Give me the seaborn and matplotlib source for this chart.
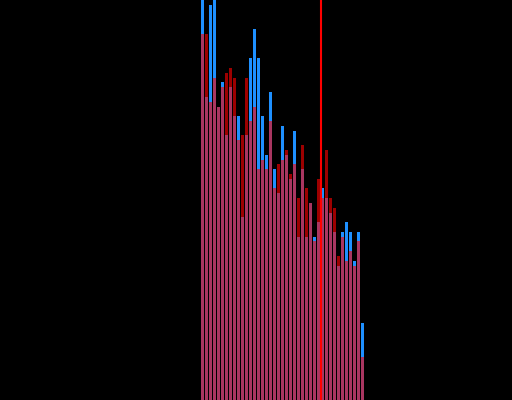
import numpy as np
import pandas as pd
import seaborn as sns
import matplotlib
matplotlib.use('Agg')
import matplotlib.pyplot as plt

# bin index and bar heights (two overlaid histograms)
bins = list(range(41))
blue_counts = [415, 303, 395, 410, 293, 318, 265, 313, 284, 284,
               183, 265, 342, 371, 342, 284, 245, 308, 231, 207,
               274, 245, 221, 269, 163, 231, 163, 197, 163, 178,
               212, 202, 187, 168, 134, 168, 178, 168, 139, 168,
               77]
red_counts = [366, 366, 298, 322, 293, 313, 327, 332, 322, 260,
              265, 322, 279, 293, 231, 240, 231, 279, 212, 236,
              240, 250, 226, 236, 202, 255, 212, 197, 159, 221,
              202, 250, 202, 192, 144, 163, 139, 149, 134, 159,
              43]
marker_pos = 29.5

df_blue = pd.DataFrame({'bin': bins, 'count': blue_counts})
df_red = pd.DataFrame({'bin': bins, 'count': red_counts})

fig = plt.figure(figsize=(5.12, 4.0), dpi=100, facecolor='black')
ax = fig.add_axes([0, 0, 1, 1])
ax.set_facecolor('black')

sns.barplot(data=df_blue, x='bin', y='count', color='dodgerblue', saturation=1,
            width=0.75, linewidth=0, ax=ax)
sns.barplot(data=df_red, x='bin', y='count', color='red', alpha=0.62, saturation=1,
            width=0.75, linewidth=0, ax=ax)
ax.axvline(marker_pos, color='red', lw=1.5)

ax.set_xlim(-50.625, 77.375)
ax.set_ylim(0, 400)
ax.axis('off')

fig.savefig('out.png', dpi=100, facecolor='black')
